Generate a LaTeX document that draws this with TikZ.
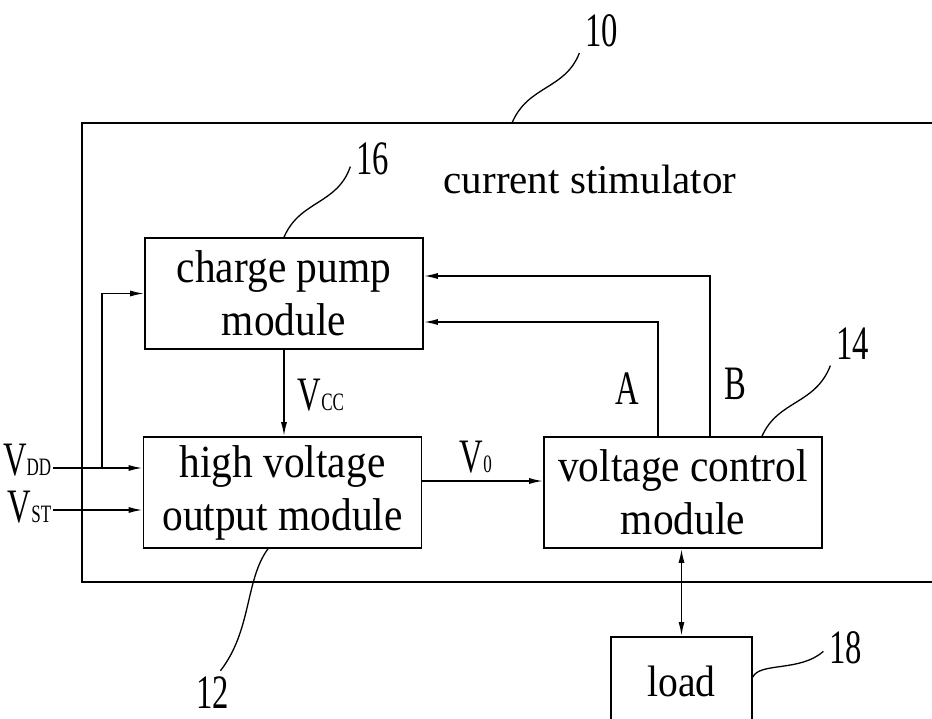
\documentclass[tikz,border=0pt]{standalone}
\usepackage{fontspec}
\setmainfont{Liberation Serif}
\newfontfamily\narrowserif[FakeStretch=0.68]{Liberation Serif}
\newfontfamily\blkserif[FakeStretch=0.9]{Liberation Serif}
\usetikzlibrary{arrows.meta}
\def\blkW{278pt}
\def\blkH{111pt}
\newcommand{\volt}[1]{V{\fontsize{25}{25}\selectfont #1}}

\begin{document}
\begin{tikzpicture}[x=1pt,y=-1pt,line width=1.6pt,
  blk/.style={draw,minimum width=\blkW,minimum height=\blkH,inner sep=0pt,align=center,font=\blkserif\fontsize{46}{53}\selectfont},
  sig/.style={-{Latex[length=14pt,width=6pt]}},
  lead/.style={line width=1.3pt},
  tag/.style={inner sep=5pt,font=\narrowserif\fontsize{48}{48}\selectfont},
  vlab/.style={inner sep=0pt,font=\narrowserif\fontsize{48}{48}\selectfont}]
  \clip (0,0) rectangle (932,718);
  \draw (950,123) -| (82,582) -- (950,582);
  \node[anchor=base,font=\fontsize{41}{48}\selectfont] (title) at (590,193) {current stimulator};
  \node[blk] (cpm) at (284,293.5) {charge pump\\module};
  \node[blk] (hvo) at (282.5,492.5) {high voltage\\output module};
  \node[blk] (vcm) at (683,492.5) {voltage control\\module};
  \node[draw,minimum width=141pt,minimum height=90pt,anchor=north,font=\blkserif\fontsize{44}{50}\selectfont] (load) at (681.5,636) {load};
  \node[tag] (n10) at (601.5,31) {10};
  \node[tag] (n16) at (372.5,158.5) {16};
  \node[tag] (n14) at (852.5,344) {14};
  \node[tag] (n12) at (212.5,692.5) {12};
  \node[tag] (n18) at (845.5,647.5) {18};
  \draw[lead] (512,123) .. controls (528,85) and (565,90) .. (n10.south west);
  \draw[lead] (cpm.north) .. controls (300,200) and (337,205) .. (n16.200);
  \draw[lead] (vcm.north -| 762,0) .. controls (778,400) and (815,405) .. (n14.south west);
  \draw[lead] (hvo.south -| 268,0) .. controls (245,580) and (252,630) .. (n12.70);
  \draw[lead] (load.east |- 0,677) .. controls (760,662) and (800,672) .. (n18.190);
  \coordinate (vdd) at (53,468);
  \coordinate (vst) at (53,510);
  \coordinate (br) at (102,468);
  \node[vlab,anchor=base east] (vddlab) at (52,475) {\volt{DD}};
  \node[vlab,anchor=base east] (vstlab) at (52,522) {\volt{ST}};
  \node[vlab,anchor=base west] (vcclab) at (297,410) {\volt{CC}};
  \node[vlab,anchor=base west] (v0lab) at (459,472) {\volt{0}};
  \node[vlab,anchor=base] (alab) at (627,404) {A};
  \node[vlab,anchor=base] (blab) at (735,399) {B};
  \draw[sig] (cpm.south) -- (cpm.south |- hvo.north);
  \draw[sig] (vdd) -- (vdd -| hvo.west);
  \draw[sig] (br) |- (cpm.west);
  \draw[sig] (vst) -- (vst -| hvo.west);
  \draw[sig] (hvo.east |- 0,481) -- (vcm.west |- 0,481);
  \draw[sig] (vcm.north -| 658,0) |- (cpm.east |- 0,322);
  \draw[sig] (vcm.north -| 710,0) |- (cpm.east |- 0,276);
  \draw[{Latex[length=14pt,width=6pt]}-{Latex[length=14pt,width=6pt]}] (load.north |- vcm.south) -- (load.north);
\end{tikzpicture}
\end{document}
